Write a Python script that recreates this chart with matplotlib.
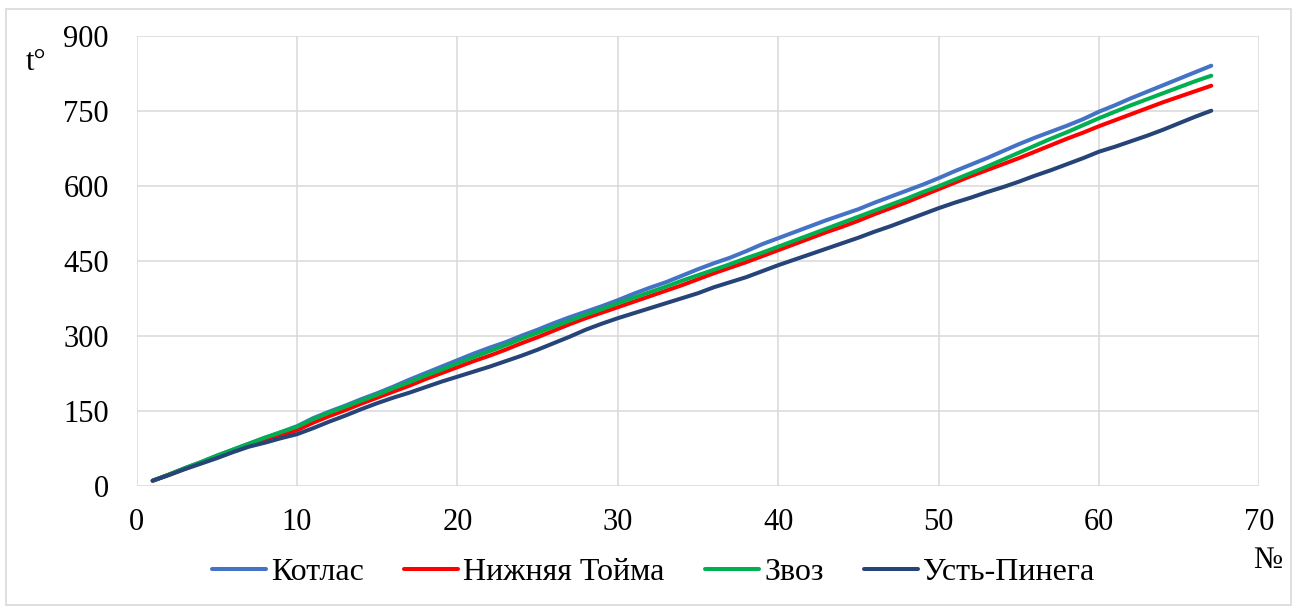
import matplotlib
matplotlib.use("Agg")
import matplotlib.pyplot as plt
from matplotlib.patches import Rectangle
from matplotlib.font_manager import FontProperties

plt.rcParams['font.family'] = 'serif'
plt.rcParams['font.serif'] = ['Liberation Serif', 'DejaVu Serif']

days = list(range(1, 68))

kotlas = [10, 22, 35, 47, 60, 72, 84, 96, 107, 119,
          135, 148, 160, 173, 185, 198, 212, 225, 238, 251,
          264, 276, 287, 300, 312, 325, 337, 348, 359, 371,
          384, 396, 407, 420, 433, 445, 456, 469, 483, 495,
          507, 519, 531, 542, 553, 566, 578, 590, 602, 615,
          629, 642, 655, 669, 683, 696, 708, 720, 733, 748,
          761, 775, 788, 801, 814, 827, 840]

nizhnyaya_toima = [10, 22, 34, 46, 58, 70, 82, 92, 101, 111,
                   126, 139, 151, 164, 176, 188, 200, 213, 225, 237,
                   249, 260, 272, 285, 297, 310, 323, 335, 346, 357,
                   368, 379, 390, 401, 413, 425, 436, 447, 459, 471,
                   483, 495, 507, 518, 530, 543, 555, 567, 580, 593,
                   606, 619, 631, 643, 655, 668, 681, 694, 706, 719,
                   731, 743, 755, 767, 778, 789, 800]

zvoz = [10, 22, 35, 47, 60, 72, 84, 96, 107, 118,
        133, 146, 158, 170, 182, 195, 207, 220, 232, 245,
        257, 269, 281, 294, 306, 318, 330, 342, 353, 365,
        376, 387, 398, 410, 421, 432, 443, 455, 466, 478,
        490, 502, 514, 526, 538, 550, 562, 574, 587, 599,
        612, 625, 638, 652, 666, 680, 694, 707, 721, 735,
        748, 761, 773, 785, 797, 809, 820]

ust_pinega = [10, 21, 33, 44, 55, 67, 78, 86, 95, 103,
              115, 128, 140, 153, 165, 176, 186, 197, 208, 218,
              228, 238, 249, 260, 272, 285, 298, 312, 324, 335,
              345, 355, 365, 375, 385, 397, 407, 417, 429, 441,
              452, 463, 474, 485, 496, 508, 519, 531, 543, 555,
              566, 576, 587, 597, 608, 620, 631, 643, 655, 668,
              678, 689, 700, 712, 725, 738, 750]

series = [
    ("Котлас", kotlas, "#4472C4"),
    ("Нижняя Тойма", nizhnyaya_toima, "#FF0000"),
    ("Звоз", zvoz, "#00B050"),
    ("Усть-Пинега", ust_pinega, "#264478"),
]

x_ticks = [0, 10, 20, 30, 40, 50, 60, 70]
y_ticks = [0, 150, 300, 450, 600, 750, 900]

FAMILY = "Liberation Serif"
tick_font = FontProperties(family=FAMILY, size=22)
legend_font = FontProperties(family=FAMILY, size=23)

W, H = 1302, 610
fig = plt.figure(figsize=(W / 100, H / 100), dpi=100)
fig.patches.append(Rectangle((6 / W, 5 / H), (1291 - 6) / W, (601.5 - 5) / H,
                             transform=fig.transFigure, fill=False,
                             edgecolor="#d9d9d9", linewidth=1.2))

ax = fig.add_axes([136.6 / W, 1 - 485.7 / H, (1259.4 - 136.6) / W, (485.7 - 35.7) / H])
for name, vals, color in series:
    ax.plot(days, vals, color=color, linewidth=2.9, label=name,
            solid_capstyle="round", solid_joinstyle="round")

ax.set_xlim(0, 70)
ax.set_ylim(0, 900)
ax.set_xticks(x_ticks)
ax.set_yticks(y_ticks)
ax.set_xticklabels([str(v) for v in x_ticks], fontproperties=tick_font)
ax.set_yticklabels([str(v) for v in y_ticks], fontproperties=tick_font)
ax.grid(True, color="#d9d9d9", linewidth=1.1)
ax.set_axisbelow(True)
for s in ax.spines.values():
    s.set_visible(False)
ax.tick_params(axis="both", length=0, colors="black")
ax.tick_params(axis="y", pad=20)
ax.tick_params(axis="x", pad=16)

fig.text(36 / W, 1 - 62 / H, "t°", fontproperties=tick_font, ha="center", va="center")
fig.text(1268 / W, 1 - 560 / H, "№", fontproperties=tick_font, ha="center", va="center")

fig.legend(loc="center", bbox_to_anchor=(653 / W, 1 - 572 / H), ncol=4,
           frameon=False, prop=legend_font, handlelength=1.7, handletextpad=0.16,
           columnspacing=1.25)

fig.savefig("out.png", dpi=100)
